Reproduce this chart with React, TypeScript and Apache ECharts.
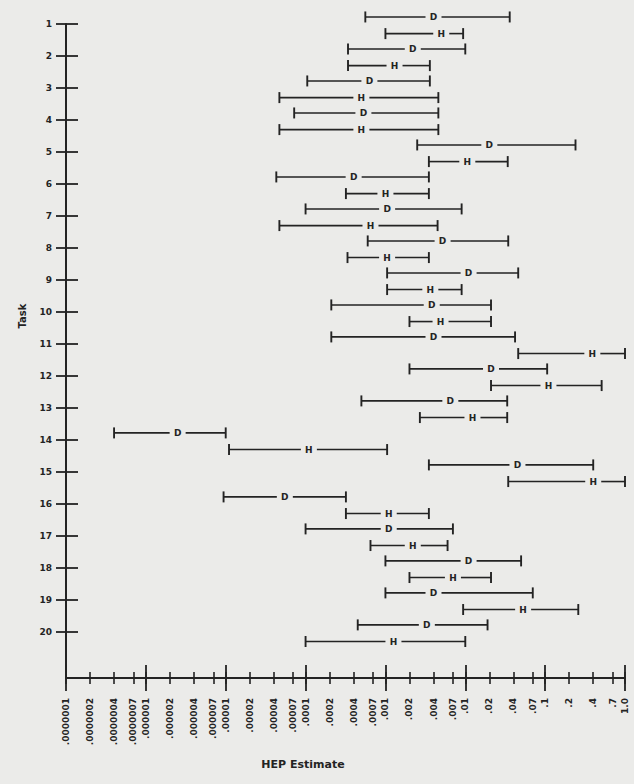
import React, { useEffect, useRef } from "react";
import * as echarts from "echarts";

// Task numbers (y axis)
const TASKS = [1, 2, 3, 4, 5, 6, 7, 8, 9, 10, 11, 12, 13, 14, 15, 16, 17, 18, 19, 20];

// "D" estimates: lower bound, point estimate, upper bound
const D_LOW = [5.6e-4, 3.4e-4, 1.05e-4, 7.2e-5, 2.5e-3, 4.3e-5, 1e-4, 6e-4, 1.05e-3, 2.1e-4, 2.1e-4, 2e-3, 5e-4, 4e-7, 3.5e-3, 9.4e-6, 1e-4, 1e-3, 1e-3, 4.5e-4];
const D_MID = [4e-3, 2.2e-3, 6.3e-4, 5.3e-4, 2e-2, 4e-4, 1.05e-3, 5.2e-3, 1.1e-2, 3.8e-3, 4e-3, 2.1e-2, 6.5e-3, 2.5e-6, 4.5e-2, 5.5e-5, 1.1e-3, 1.1e-2, 4e-3, 3.3e-3];
const D_HIGH = [3.6e-2, 1e-2, 3.6e-3, 4.6e-3, 0.24, 3.5e-3, 9e-3, 3.45e-2, 4.6e-2, 2.1e-2, 4.2e-2, 0.106, 3.35e-2, 1e-5, 0.4, 3.2e-4, 7e-3, 5e-2, 7e-2, 1.9e-2];

// "H" estimates: lower bound, point estimate, upper bound
const H_LOW = [1e-3, 3.4e-4, 4.7e-5, 4.7e-5, 3.5e-3, 3.2e-4, 4.7e-5, 3.35e-4, 1.05e-3, 2e-3, 4.6e-2, 2.1e-2, 2.7e-3, 1.1e-5, 3.45e-2, 3.2e-4, 6.5e-4, 2e-3, 9.4e-3, 1e-4];
const H_MID = [5e-3, 1.3e-3, 5e-4, 5e-4, 1.06e-2, 1e-3, 6.5e-4, 1.05e-3, 3.65e-3, 4.9e-3, 0.39, 0.11, 1.23e-2, 1.1e-4, 0.4, 1.1e-3, 2.2e-3, 7e-3, 5.3e-2, 1.26e-3];
const H_HIGH = [9.4e-3, 3.6e-3, 4.6e-3, 4.6e-3, 3.4e-2, 3.5e-3, 4.5e-3, 3.5e-3, 9e-3, 2.1e-2, 1.0, 0.51, 3.35e-2, 1.05e-3, 1.0, 3.5e-3, 6e-3, 2.1e-2, 0.26, 1e-2];

// x axis tick values and labels
const X_TICK_VALUES = [1e-7, 2e-7, 4e-7, 7e-7, 1e-6, 2e-6, 4e-6, 7e-6, 1e-5, 2e-5, 4e-5, 7e-5, 1e-4, 2e-4, 4e-4, 7e-4, 1e-3, 2e-3, 4e-3, 7e-3, 0.01, 0.02, 0.04, 0.07, 0.1, 0.2, 0.4, 0.7, 1];
const X_TICK_LABELS = [".0000001", ".0000002", ".0000004", ".0000007", ".000001", ".000002", ".000004", ".000007", ".00001", ".00002", ".00004", ".00007", ".0001", ".0002", ".0004", ".0007", ".001", ".002", ".004", ".007", ".01", ".02", ".04", ".07", ".1", ".2", ".4", ".7", "1.0"];
const X_MAJOR_VALUES = [1e-7, 1e-6, 1e-5, 1e-4, 1e-3, 0.01, 0.1, 1];

const INK = "#232323";
const PAPER = "#ebebe9";
const FONT = "DejaVu Sans";

const lg = (v: number) => Math.round(Math.log10(v) * 1e9) / 1e9;

export default function App() {
  const ref = useRef<HTMLDivElement>(null);

  useEffect(() => {
    if (!ref.current) return;
    const chart = echarts.init(ref.current, undefined, { renderer: "svg" });

    const tickLogs = X_TICK_VALUES.map(lg);
    const majorLogs = X_MAJOR_VALUES.map(lg);

    const makeData = (lo: number[], mid: number[], hi: number[], off: number) =>
      TASKS.map((t, i) => [lg(lo[i]), lg(mid[i]), lg(hi[i]), t + off]);

    const makeRender = (letter: string) => (params: any, api: any) => {
      const y = api.value(3);
      const a = api.coord([api.value(0), y]);
      const m = api.coord([api.value(1), y]);
      const b = api.coord([api.value(2), y]);
      const yy = a[1];
      const gap = 8;
      const cap = 5.5;
      const lineStyle = { stroke: INK, lineWidth: 1.6 };
      return {
        type: "group",
        children: [
          { type: "line", shape: { x1: a[0], y1: yy, x2: Math.max(a[0], m[0] - gap), y2: yy }, style: lineStyle },
          { type: "line", shape: { x1: Math.min(b[0], m[0] + gap), y1: yy, x2: b[0], y2: yy }, style: lineStyle },
          { type: "line", shape: { x1: a[0], y1: yy - cap, x2: a[0], y2: yy + cap }, style: { stroke: INK, lineWidth: 1.9 } },
          { type: "line", shape: { x1: b[0], y1: yy - cap, x2: b[0], y2: yy + cap }, style: { stroke: INK, lineWidth: 1.9 } },
          {
            type: "text",
            x: m[0],
            y: yy,
            style: {
              text: letter,
              fill: INK,
              font: `bold 9px "${FONT}"`,
              align: "center",
              verticalAlign: "middle",
            },
          },
        ],
      };
    };

    const baseX = {
      type: "value",
      min: -7,
      max: 0,
      position: "bottom",
      gridIndex: 0,
      splitLine: { show: false },
    };

    const baseY = {
      type: "value",
      inverse: true,
      min: 1,
      max: 21.44,
      position: "left",
      gridIndex: 0,
      splitLine: { show: false },
    };

    const option: any = {
      animation: false,
      backgroundColor: PAPER,
      grid: { left: 66, top: 24, width: 559, height: 654, containLabel: false, outerBoundsMode: "none" },
      xAxis: [
        {
          ...baseX,
          axisLine: { show: true, onZero: false, lineStyle: { color: INK, width: 2 } },
          axisTick: { show: true, customValues: tickLogs, inside: false, length: 6, lineStyle: { color: INK, width: 1.6 } },
          axisLabel: {
            show: true,
            customValues: tickLogs,
            rotate: 90,
            margin: 20,
            color: INK,
            fontFamily: FONT,
            fontWeight: "bold",
            fontSize: 9,
            formatter: (v: number) => {
              const i = tickLogs.findIndex((t) => Math.abs(t - v) < 1e-6);
              return i >= 0 ? X_TICK_LABELS[i] : "";
            },
          },
        },
        {
          ...baseX,
          axisLine: { show: false, onZero: false },
          axisTick: { show: true, customValues: tickLogs, inside: true, length: 6, lineStyle: { color: INK, width: 1.6 } },
          axisLabel: { show: false },
        },
        {
          ...baseX,
          axisLine: { show: false, onZero: false },
          axisTick: { show: true, customValues: majorLogs, inside: false, length: 13, lineStyle: { color: INK, width: 1.8 } },
          axisLabel: { show: false },
        },
        {
          ...baseX,
          axisLine: { show: false, onZero: false },
          axisTick: { show: true, customValues: majorLogs, inside: true, length: 13, lineStyle: { color: INK, width: 1.8 } },
          axisLabel: { show: false },
        },
      ],
      yAxis: [
        {
          ...baseY,
          axisLine: { show: true, onZero: false, lineStyle: { color: INK, width: 2 } },
          axisTick: { show: true, customValues: TASKS, inside: false, length: 10, lineStyle: { color: INK, width: 1.8 } },
          axisLabel: {
            show: true,
            customValues: TASKS,
            margin: 14,
            color: INK,
            fontFamily: FONT,
            fontWeight: "bold",
            fontSize: 9,
          },
        },
        {
          ...baseY,
          axisLine: { show: false, onZero: false },
          axisTick: { show: true, customValues: TASKS, inside: true, length: 12, lineStyle: { color: INK, width: 1.8 } },
          axisLabel: { show: false },
        },
      ],
      graphic: [
        {
          type: "text",
          x: 22,
          y: 316,
          rotation: Math.PI / 2,
          style: { text: "Task", fill: INK, font: `bold 10px "${FONT}"`, align: "center", verticalAlign: "middle" },
        },
        {
          type: "text",
          x: 303,
          y: 764,
          style: { text: "HEP Estimate", fill: INK, font: `bold 11px "${FONT}"`, align: "center", verticalAlign: "middle" },
        },
      ],
      series: [
        {
          type: "custom",
          name: "D",
          xAxisIndex: 0,
          yAxisIndex: 0,
          renderItem: makeRender("D"),
          encode: { x: [0, 1, 2], y: 3 },
          data: makeData(D_LOW, D_MID, D_HIGH, -0.22),
          clip: false,
        },
        {
          type: "custom",
          name: "H",
          xAxisIndex: 0,
          yAxisIndex: 0,
          renderItem: makeRender("H"),
          encode: { x: [0, 1, 2], y: 3 },
          data: makeData(H_LOW, H_MID, H_HIGH, 0.3),
          clip: false,
        },
      ],
    };

    chart.setOption(option);
    return () => chart.dispose();
  }, []);

  return (
    <div
      ref={ref}
      style={{ position: "fixed", left: 0, top: 0, width: 634, height: 784, background: PAPER }}
    />
  );
}
